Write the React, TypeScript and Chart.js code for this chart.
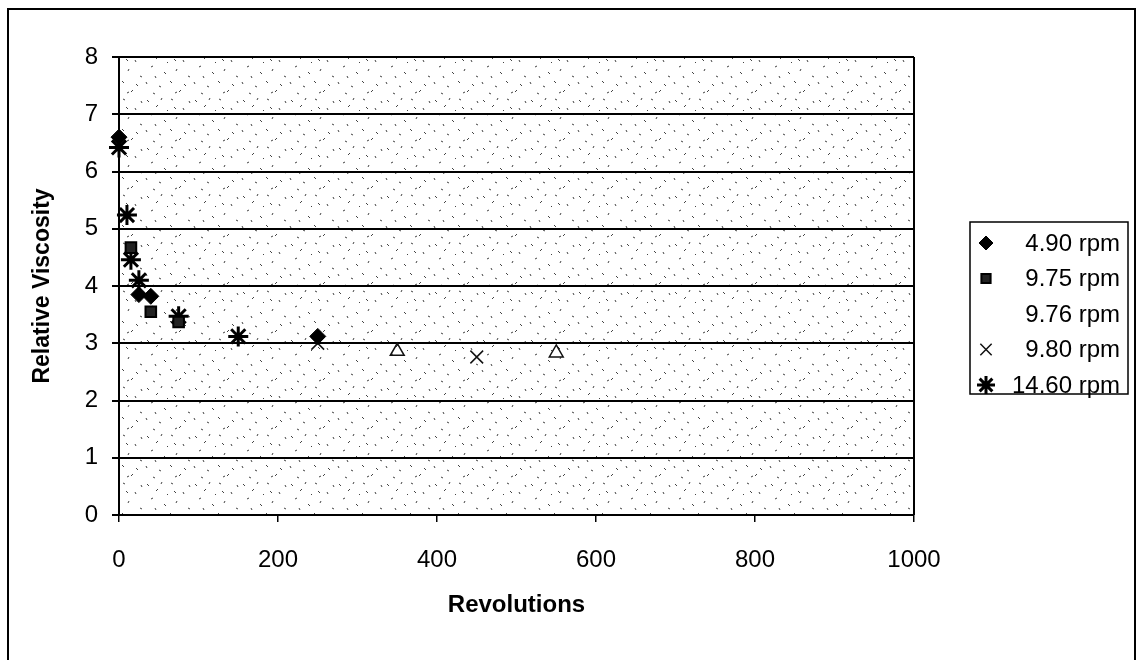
import React, { useEffect, useRef } from "react";
import { Chart, registerables } from "chart.js";
import { drawPoint } from "chart.js/helpers";

Chart.register(...registerables);

// ---- data ----
const xTickValues = [0, 200, 400, 600, 800, 1000];
const yTickValues = [0, 1, 2, 3, 4, 5, 6, 7, 8];

const seriesLabels = ["4.90 rpm", "9.75 rpm", "9.76 rpm", "9.80 rpm", "14.60 rpm"];

const rev490 = [0, 25, 40, 250];
const visc490 = [6.6, 3.85, 3.82, 3.12];

const rev975 = [15, 40, 75];
const visc975 = [4.67, 3.55, 3.37];

const rev976 = [350, 550];
const visc976 = [2.86, 2.83];

const rev980 = [250, 450];
const visc980 = [3.0, 2.76];

const rev1460 = [0, 10, 15, 25, 75, 150];
const visc1460 = [6.42, 5.24, 4.46, 4.1, 3.47, 3.12];

const FONT = "'Liberation Sans', Arial, sans-serif";

// fixed stipple tile: [x, y, dx, dy]
const stippleTile = [
  [3, 4, 2, 2], [14, 9, -2, 2], [27, 3, 2, 1], [39, 12, 1, 2],
  [7, 19, 2, -1], [20, 24, 2, 2], [33, 21, -1, 2], [44, 28, 2, 1],
  [2, 34, 1, 2], [15, 38, 2, 1], [26, 33, 2, 2], [37, 42, -2, 2],
  [9, 45, 2, 1], [45, 5, 1, 2], [23, 14, 1, 1], [31, 45, 2, -1],
  [11, 28, 1, 2], [40, 36, 2, 2], [18, 2, -1, 2], [30, 11, 2, 2],
];

function pts(xs: number[], ys: number[]) {
  return xs.map((x, i) => ({ x, y: ys[i] }));
}

export default function App() {
  const ref = useRef<HTMLCanvasElement | null>(null);

  useEffect(() => {
    const canvas = ref.current;
    if (!canvas) return;

    const tile = document.createElement("canvas");
    tile.width = 48;
    tile.height = 48;
    const tctx = tile.getContext("2d")!;
    tctx.fillStyle = "#ffffff";
    tctx.fillRect(0, 0, 48, 48);
    tctx.strokeStyle = "#444";
    tctx.lineWidth = 1;
    stippleTile.forEach(([x, y, dx, dy]) => {
      tctx.beginPath();
      tctx.moveTo(x, y);
      tctx.lineTo(x + dx, y + dy);
      tctx.stroke();
    });

    const legendMarker = [true, true, false, true, true];

    const framePlugin = {
      id: "frame",
      beforeDraw(chart: any) {
        const { ctx, chartArea: a } = chart;
        ctx.save();
        ctx.fillStyle = "#fff";
        ctx.fillRect(0, 0, chart.width, chart.height);
        const pat = ctx.createPattern(tile, "repeat");
        ctx.fillStyle = pat;
        ctx.fillRect(a.left, a.top, a.right - a.left, a.bottom - a.top);
        // outer chart border
        ctx.strokeStyle = "#000";
        ctx.lineWidth = 2;
        ctx.strokeRect(8, 9, 1127, 720);
        ctx.restore();
      },
      afterDatasetsDraw(chart: any) {
        const { ctx, chartArea: a } = chart;
        ctx.save();
        ctx.strokeStyle = "#000";
        ctx.lineWidth = 2;
        ctx.beginPath();
        ctx.moveTo(a.right, a.top);
        ctx.lineTo(a.right, a.bottom);
        ctx.stroke();

        // legend
        const boxL = 970, boxT = 222, boxW = 158, boxH = 172;
        ctx.lineWidth = 1.5;
        ctx.strokeRect(boxL, boxT, boxW, boxH);
        ctx.font = `24px ${FONT}`;
        ctx.fillStyle = "#000";
        ctx.textAlign = "right";
        ctx.textBaseline = "middle";
        chart.data.datasets.forEach((ds: any, i: number) => {
          const y = 243 + i * 35.5;
          if (legendMarker[i]) {
            ctx.save();
            ctx.strokeStyle = ds.borderColor;
            ctx.fillStyle = ds.backgroundColor;
            ctx.lineWidth = ds.borderWidth;
            drawPoint(ctx, { pointStyle: ds.pointStyle, radius: ds.pointRadius - 1, borderWidth: ds.borderWidth, rotation: 0 }, 986, y);
            ctx.restore();
          }
          ctx.fillText(ds.label, 1120, y + 1);
        });
        ctx.restore();
      },
    };

    const chart = new Chart(canvas, {
      type: "scatter",
      data: {
        datasets: [
          {
            label: seriesLabels[0],
            data: pts(rev490, visc490),
            pointStyle: "rectRot",
            pointRadius: 8,
            borderWidth: 1,
            borderColor: "#000",
            backgroundColor: "#000",
            clip: false,
          },
          {
            label: seriesLabels[1],
            data: pts(rev975, visc975),
            pointStyle: "rect",
            pointRadius: 7.5,
            borderWidth: 2,
            borderColor: "#000",
            backgroundColor: "#222",
            clip: false,
          },
          {
            label: seriesLabels[2],
            data: pts(rev976, visc976),
            pointStyle: "triangle",
            pointRadius: 8,
            borderWidth: 1.5,
            borderColor: "#111",
            backgroundColor: "rgba(0,0,0,0)",
            clip: false,
          },
          {
            label: seriesLabels[3],
            data: pts(rev980, visc980),
            pointStyle: "crossRot",
            pointRadius: 9,
            borderWidth: 1.5,
            borderColor: "#111",
            backgroundColor: "#111",
            clip: false,
          },
          {
            label: seriesLabels[4],
            data: pts(rev1460, visc1460),
            pointStyle: "star",
            pointRadius: 10,
            borderWidth: 3,
            borderColor: "#000",
            backgroundColor: "#000",
            clip: false,
          },
        ],
      },
      options: {
        responsive: false,
        animation: false,
        events: [],
        layout: { padding: { left: 0, top: 57, right: 222, bottom: 0 } },
        plugins: {
          legend: { display: false },
          tooltip: { enabled: false },
        },
        scales: {
          x: {
            type: "linear",
            min: 0,
            max: 1000,
            afterBuildTicks: (s: any) => {
              s.ticks = xTickValues.map((v) => ({ value: v }));
            },
            afterFit: (s: any) => {
              s.height = 145;
            },
            ticks: {
              color: "#000",
              padding: 24,
              maxRotation: 0,
              font: { family: FONT, size: 24 },
              callback: (v: any) => String(v),
            },
            grid: {
              display: true,
              drawOnChartArea: false,
              drawTicks: true,
              tickLength: 7,
              color: "#000",
              lineWidth: 1.5,
            },
            border: { display: true, color: "#000", width: 2 },
            title: {
              display: true,
              text: "Revolutions",
              color: "#000",
              font: { family: FONT, size: 24, weight: "bold" },
              padding: { top: 0, bottom: 40 },
            },
          },
          y: {
            type: "linear",
            min: 0,
            max: 8,
            afterBuildTicks: (s: any) => {
              s.ticks = yTickValues.map((v) => ({ value: v }));
            },
            afterFit: (s: any) => {
              s.width = 119;
            },
            ticks: {
              color: "#000",
              padding: 14,
              font: { family: FONT, size: 24 },
              callback: (v: any) => String(v),
            },
            grid: {
              display: true,
              drawTicks: true,
              tickLength: 7,
              color: "#000",
              lineWidth: 2,
            },
            border: { display: true, color: "#000", width: 2 },
            title: {
              display: true,
              text: "Relative Viscosity",
              color: "#000",
              font: { family: FONT, size: 23, weight: "bold" },
              padding: { top: 29, bottom: 0 },
            },
          },
        },
      },
      plugins: [framePlugin],
    } as any);

    return () => chart.destroy();
  }, []);

  return (
    <div
      style={{
        position: "fixed",
        left: 0,
        top: 0,
        width: 1136,
        height: 660,
        overflow: "hidden",
        background: "#fff",
      }}
    >
      <canvas ref={ref} width={1136} height={660} style={{ display: "block" }} />
    </div>
  );
}
